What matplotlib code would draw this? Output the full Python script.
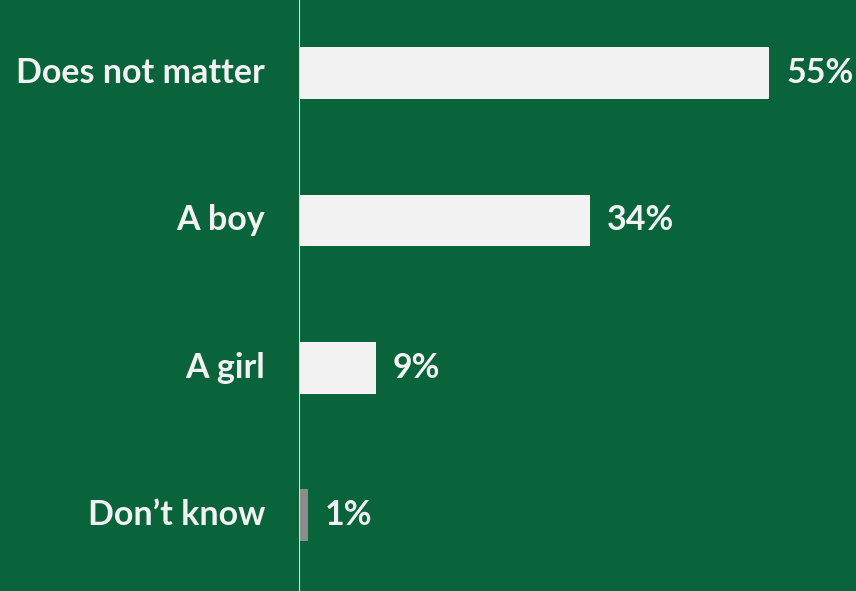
import matplotlib.pyplot as plt

categories = ["Does not matter", "A boy", "A girl", "Don\u2019t know"]
values = [55, 34, 9, 1]
bar_colors = ["#F2F2F2", "#F2F2F2", "#F2F2F2", "#8C8C8C"]

bg = "#09633B"

fig = plt.figure(figsize=(8.56, 5.91), dpi=100, facecolor=bg)
ax = fig.add_axes([299 / 856, 0, 1 - 299 / 856, 1])
ax.set_facecolor(bg)

ypos = list(range(len(categories)))
ax.barh(ypos, values, height=0.35, color=bar_colors)

for y, v in zip(ypos, values):
    ax.text(v + 2.0, y, f"{v}%", va="center", ha="left", color="#F2F2F2",
            fontsize=24.5, fontweight="bold", family="Lato")

for y, c in zip(ypos, categories):
    ax.text(-34 / 8.545, y, c, va="center", ha="right", color="#F2F2F2",
            fontsize=24.5, fontweight="bold", family="Lato")

ax.set_xlim(0, (856 - 299) / 8.545)
ax.set_ylim(3.515, -0.495)
ax.axvline(0, color="#D9D9D9", linewidth=1.5)
ax.set_xticks([])
ax.set_yticks([])
for s in ax.spines.values():
    s.set_visible(False)

fig.savefig("out.png", dpi=100, facecolor=bg)
